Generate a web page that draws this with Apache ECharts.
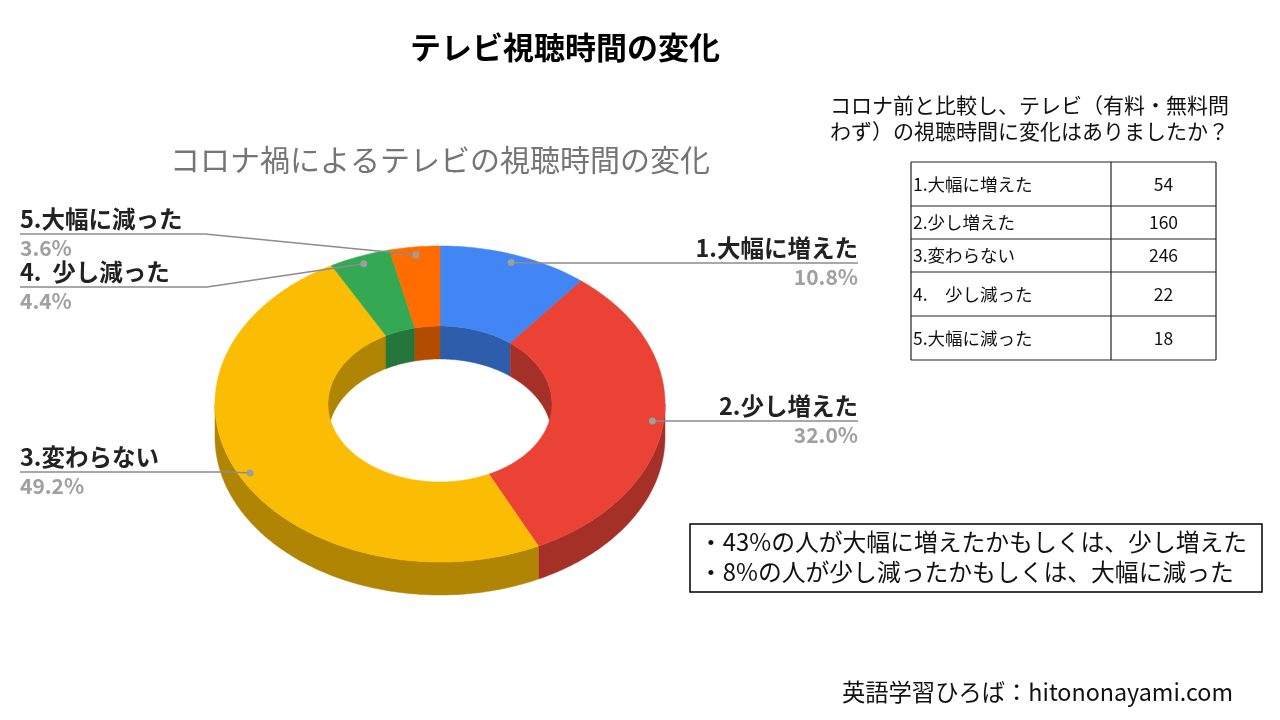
<!DOCTYPE html>
<html><head><meta charset="utf-8">
<script src="https://cdn.jsdelivr.net/npm/echarts@6/dist/echarts.min.js"></script>
<style>html,body{margin:0;padding:0;background:#fff}#main{width:1280px;height:720px}</style>
</head><body><div id="main"></div>
<script>
// ---- data ----
const categories = ['1.大幅に増えた', '2.少し増えた', '3.変わらない', '4.　少し減った', '5.大幅に減った'];
const chartLabels = ['1.大幅に増えた', '2.少し増えた', '3.変わらない', '4.  少し減った', '5.大幅に減った'];
const counts = [54, 160, 246, 22, 18];
const titleText = 'テレビ視聴時間の変化';
const chartTitle = 'コロナ禍によるテレビの視聴時間の変化';
const questionLines = ['コロナ前と比較し、テレビ（有料・無料問', 'わず）の視聴時間に変化はありましたか？'];
const noteLines = ['・43%の人が大幅に増えたかもしくは、少し増えた', '・8%の人が少し減ったかもしくは、大幅に減った'];
const footerText = '英語学習ひろば：hitononayami.com';

// ---- styles / layout ----
const colors = ['#4285F4', '#EA4335', '#FBBC04', '#34A853', '#FF6D01'];
const sideColors = ['#2E5DAB', '#A43027', '#B08503', '#24763A', '#B34C01'];
const CX = 440, CY = 404, RX = 225, RY = 158, IRX = 112, IRY = 78, DEPTH = 33;
const FONT = '"Noto Sans CJK JP", "Noto Sans", sans-serif';
// label layout per slice: side, line y, elbow x, end x
const labelLayout = [
  { side: 'right', lineY: 263, elbowX: 530, endX: 858 },
  { side: 'right', lineY: 421, elbowX: 670, endX: 858 },
  { side: 'left', lineY: 472, elbowX: 230, endX: 20 },
  { side: 'left', lineY: 287, elbowX: 207, endX: 20 },
  { side: 'left', lineY: 234, elbowX: 205, endX: 20 }
];

const total = counts.reduce((a, b) => a + b, 0);
const startAngles = [];
(function () { let acc = 0; counts.forEach(v => { startAngles.push(acc / total * 360); acc += v; }); })();

function pt(a, rx, ry, dy) {
  const r = a * Math.PI / 180;
  return [CX + rx * Math.sin(r), CY - ry * Math.cos(r) + (dy || 0)];
}
function arc(a0, a1, rx, ry, dy) {
  const pts = [];
  const n = Math.max(2, Math.ceil(Math.abs(a1 - a0)));
  for (let i = 0; i <= n; i++) pts.push(pt(a0 + (a1 - a0) * i / n, rx, ry, dy));
  return pts;
}

function renderItem(params, api) {
  const i = params.dataIndex;
  const v = api.value(0);
  const a0 = startAngles[i], a1 = a0 + v / total * 360;
  const children = [];
  // inner walls (back half visible)
  [[0, 90], [270, 360]].forEach(([b0, b1]) => {
    const s = Math.max(a0, b0), e = Math.min(a1, b1);
    if (e > s) {
      const pts = arc(s, e, IRX, IRY, 0).concat(arc(e, s, IRX, IRY, DEPTH));
      children.push({ type: 'polygon', z2: 1, shape: { points: pts },
        style: { fill: sideColors[i], stroke: sideColors[i], lineWidth: 0.5 } });
    }
  });
  // outer walls (front half visible)
  {
    const s = Math.max(a0, 90), e = Math.min(a1, 270);
    if (e > s) {
      const pts = arc(s, e, RX, RY, 0).concat(arc(e, s, RX, RY, DEPTH));
      children.push({ type: 'polygon', z2: 2, shape: { points: pts },
        style: { fill: sideColors[i], stroke: sideColors[i], lineWidth: 0.5 } });
    }
  }
  // top face
  const top = arc(a0, a1, RX, RY, 0).concat(arc(a1, a0, IRX, IRY, 0));
  children.push({ type: 'polygon', z2: 3, shape: { points: top },
    style: { fill: colors[i], stroke: colors[i], lineWidth: 0.6 } });
  // leader line + dot
  const mid = (a0 + a1) / 2;
  const dot = pt(mid, RX * 0.95, RY * 0.95, 0);
  const L = labelLayout[i];
  children.push({ type: 'polyline', z2: 4,
    shape: { points: [dot, [L.elbowX, L.lineY], [L.endX, L.lineY]] },
    style: { stroke: '#8c8c8c', lineWidth: 1.5, fill: null } });
  children.push({ type: 'circle', z2: 5, shape: { cx: dot[0], cy: dot[1], r: 3.5 },
    style: { fill: '#9e9e9e' } });
  const align = L.side === 'right' ? 'right' : 'left';
  children.push({ type: 'text', z2: 5, x: L.endX, y: L.lineY - 15,
    style: { text: chartLabels[i], fill: '#222222', fontSize: 23.5, fontWeight: 'bold', fontFamily: FONT,
      align: align, verticalAlign: 'middle' } });
  children.push({ type: 'text', z2: 5, x: L.endX, y: L.lineY + 14,
    style: { text: (v / total * 100).toFixed(1) + '%', fill: '#a0a0a0', fontSize: 21, fontWeight: 'bold', fontFamily: FONT,
      align: align, verticalAlign: 'middle' } });
  return { type: 'group', children: children };
}

// ---- static graphics (title, table, notes) ----
const graphics = [];
graphics.push({ type: 'text', x: 565, y: 47, style: { text: titleText, fill: '#000', fontSize: 31, fontWeight: 'bold', fontFamily: FONT, align: 'center', verticalAlign: 'middle' } });
graphics.push({ type: 'text', x: 440, y: 160, style: { text: chartTitle, fill: '#757575', fontSize: 30, fontFamily: FONT, align: 'center', verticalAlign: 'middle' } });
questionLines.forEach((t, k) => {
  graphics.push({ type: 'text', x: 830, y: 105 + k * 26, style: { text: t, fill: '#111', fontSize: 21, fontFamily: FONT, align: 'left', verticalAlign: 'middle' } });
});
// table
const rowEdges = [162, 206, 239, 272, 316, 360];
const colEdges = [911, 1111, 1216];
rowEdges.forEach(y => graphics.push({ type: 'line', shape: { x1: colEdges[0], y1: y, x2: colEdges[2], y2: y }, style: { stroke: '#222', lineWidth: 1.2 } }));
colEdges.forEach(x => graphics.push({ type: 'line', shape: { x1: x, y1: rowEdges[0], x2: x, y2: rowEdges[rowEdges.length - 1] }, style: { stroke: '#222', lineWidth: 1.2 } }));
categories.forEach((c, k) => {
  const ym = (rowEdges[k] + rowEdges[k + 1]) / 2;
  graphics.push({ type: 'text', x: colEdges[0] + 2, y: ym, style: { text: c, fill: '#111', fontSize: 17.5, fontFamily: FONT, align: 'left', verticalAlign: 'middle' } });
  graphics.push({ type: 'text', x: (colEdges[1] + colEdges[2]) / 2, y: ym, style: { text: String(counts[k]), fill: '#111', fontSize: 17.5, fontFamily: FONT, align: 'center', verticalAlign: 'middle' } });
});
// note box
graphics.push({ type: 'rect', shape: { x: 690, y: 524, width: 572, height: 68 }, style: { fill: 'none', stroke: '#000', lineWidth: 1.5 } });
noteLines.forEach((t, k) => {
  graphics.push({ type: 'text', x: 699, y: 542 + k * 30, style: { text: t, fill: '#111', fontSize: 23.8, fontFamily: FONT, align: 'left', verticalAlign: 'middle' } });
});
graphics.push({ type: 'text', x: 1233, y: 692, style: { text: footerText, fill: '#111', fontSize: 23.3, fontFamily: FONT, align: 'right', verticalAlign: 'middle' } });

const chart = echarts.init(document.getElementById('main'));
chart.setOption({
  animation: false,
  backgroundColor: '#ffffff',
  graphic: graphics,
  series: [{
    type: 'custom',
    coordinateSystem: 'none',
    renderItem: renderItem,
    data: counts
  }]
});
</script>
</body></html>
